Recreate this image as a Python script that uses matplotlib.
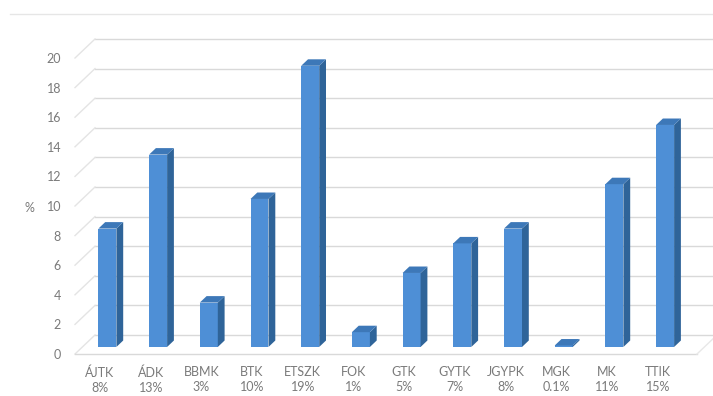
import matplotlib.pyplot as plt
from matplotlib.patches import Polygon
from matplotlib.lines import Line2D

# karok es aranyuk (%)
karok = ['ÁJTK', 'ÁDK', 'BBMK', 'BTK', 'ETSZK', 'FOK', 'GTK', 'GYTK', 'JGYPK', 'MGK', 'MK', 'TTIK']
aranyok = [8, 13, 3, 10, 19, 1, 5, 7, 8, 0.1, 11, 15]
arany_cimkek = ['8%', '13%', '3%', '10%', '19%', '1%', '5%', '7%', '8%', '0.1%', '11%', '15%']
y_osztas = list(range(0, 21, 2))

W, H = 713, 396
fig = plt.figure(figsize=(W / 100, H / 100), dpi=100)
plt.rcParams['font.family'] = ['Lato', 'DejaVu Sans']

# tengely: bal also sarok a padlo elso elen
bal, jobb, alul, felul = 75, 713, 354, 30
ax = fig.add_axes([bal / W, 1 - alul / H, (jobb - bal) / W, (alul - felul) / H])
px_x = 50.7   # pixel / kategoria
px_y = 14.8   # pixel / egyseg
ax.set_xlim((bal - 100) / px_x, (jobb - 100) / px_x)
ax.set_ylim(0, (alul - felul) / px_y)
for s in ax.spines.values():
    s.set_visible(False)

# 3D melyseg (hatso fal eltolasa)
dx = 20 / px_x
dy = 19 / px_y
x0 = ax.get_xlim()[0]
x1 = ax.get_xlim()[1]
racs = '#d9d9d9'

for v in y_osztas:
    ax.add_line(Line2D([x0 + dx, x1], [v + dy, v + dy], color=racs, lw=1, clip_on=False, zorder=1))
    ax.add_line(Line2D([x0, x0 + dx], [v, v + dy], color='#e4e4e4', lw=1, clip_on=False, zorder=1))
# padlo elso ele
x_padlo = (697 - 100) / px_x
ax.add_line(Line2D([x0, x_padlo], [0, 0], color=racs, lw=1, clip_on=False, zorder=1))
ax.add_line(Line2D([x_padlo, x_padlo + dx], [0, dy], color='#e8e8e8', lw=1, clip_on=False, zorder=1))

# oszlopok
f1, f2 = 0.37, 0.71
szel = 0.355
elo, oldal, teto = '#4e8fd6', '#2f6499', '#3d78b8'
for i, v in enumerate(aranyok):
    xa = i + f1 * dx - szel / 2
    xb = xa + szel
    ya = f1 * dy
    ox = (f2 - f1) * dx
    oy = (f2 - f1) * dy
    ax.add_patch(Polygon([(xa, ya), (xb, ya), (xb, ya + v), (xa, ya + v)],
                         closed=True, fc=elo, ec='none', zorder=3, clip_on=False))
    ax.add_patch(Polygon([(xb, ya), (xb + ox, ya + oy), (xb + ox, ya + v + oy), (xb, ya + v)],
                         closed=True, fc=oldal, ec='none', zorder=3, clip_on=False))
    ax.add_patch(Polygon([(xa, ya + v), (xb, ya + v), (xb + ox, ya + v + oy), (xa + ox, ya + v + oy)],
                         closed=True, fc=teto, ec='none', zorder=3, clip_on=False))

ax.set_yticks(y_osztas)
ax.set_yticklabels([str(v) for v in y_osztas])
ax.set_xticks(range(len(karok)))
ax.set_xticklabels([k + '\n' + c for k, c in zip(karok, arany_cimkek)], linespacing=1.25)
ax.tick_params(axis='y', length=0, pad=10, labelsize=9, labelcolor='#7a7a7a')
ax.tick_params(axis='x', length=0, pad=9, labelsize=9, labelcolor='#7a7a7a')

fig.text(29 / W, 1 - 208 / H, '%', ha='center', va='center', fontsize=9, color='#7a7a7a')
fig.add_artist(Line2D([10 / W, 1], [1 - 14 / H, 1 - 14 / H], color='#e6e6e6', lw=1))

fig.savefig('out.png', dpi=100)
